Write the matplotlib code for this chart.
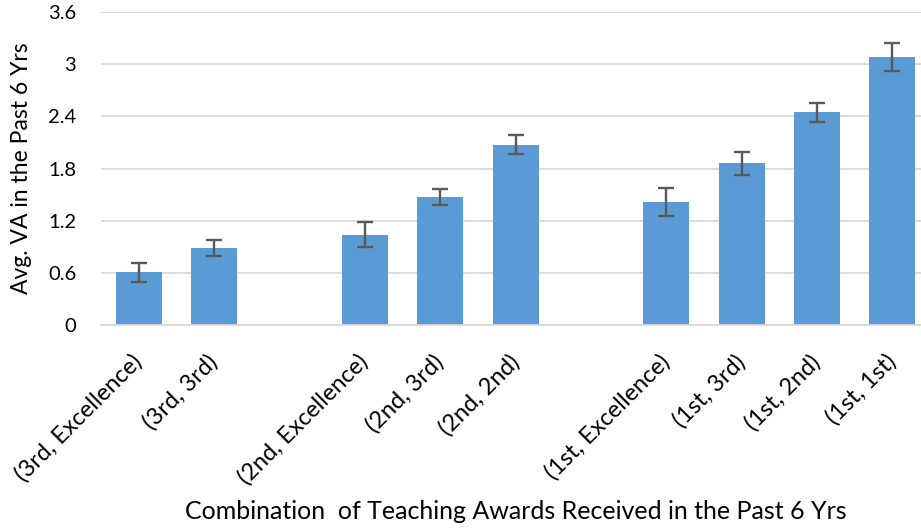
import numpy as np
import matplotlib
matplotlib.use('Agg')
import matplotlib.pyplot as plt

plt.rcParams['font.family'] = ['Lato', 'DejaVu Sans']

categories = ['(3rd, Excellence)', '(3rd, 3rd)',
              '(2nd, Excellence)', '(2nd, 3rd)', '(2nd, 2nd)',
              '(1st, Excellence)', '(1st, 3rd)', '(1st, 2nd)', '(1st, 1st)']
slots = [0, 1, 3, 4, 5, 7, 8, 9, 10]
values = [0.605, 0.885, 1.04, 1.475, 2.075, 1.42, 1.86, 2.45, 3.08]
errors = [0.11, 0.095, 0.145, 0.095, 0.11, 0.16, 0.13, 0.11, 0.16]
yticks = [0, 0.6, 1.2, 1.8, 2.4, 3.0, 3.6]
ytick_labels = ['0', '0.6', '1.2', '1.8', '2.4', '3', '3.6']

fig = plt.figure(figsize=(9.21, 5.29), dpi=100)
ax = fig.add_axes([0.110, 0.3856, 0.89, 0.5914])

ax.bar(slots, values, width=0.61, color='#5B9BD5', zorder=2)
ax.errorbar(slots, values, yerr=errors, fmt='none', ecolor='#595959',
            elinewidth=1.7, capsize=6, capthick=1.7, zorder=3)

ax.set_xlim(-0.5, 10.38)
ax.set_ylim(0, 3.6)
ax.set_yticks(yticks)
ax.set_yticklabels(ytick_labels)
ax.yaxis.grid(True, color='#d9d9d9', linewidth=1.3, zorder=0)
ax.set_axisbelow(True)

for s in ['top', 'right', 'left']:
    ax.spines[s].set_visible(False)
ax.spines['bottom'].set_color('#d9d9d9')
ax.spines['bottom'].set_linewidth(1.3)

ax.set_xticks(slots)
ax.set_xticklabels(categories, rotation=45, ha='right', va='center',
                   rotation_mode='anchor')
ax.tick_params(axis='x', length=0, pad=24, labelsize=17, colors='#000000')
ax.tick_params(axis='y', length=0, pad=18, labelsize=14.5)

ax.set_ylabel('Avg. VA in the Past 6 Yrs', fontsize=16.5)
ax.yaxis.set_label_coords(-0.084, 0.5)
fig.text(0.56, 0.034, 'Combination  of Teaching Awards Received in the Past 6 Yrs',
         ha='center', va='center', fontsize=18)

fig.savefig('out.png', dpi=100)
